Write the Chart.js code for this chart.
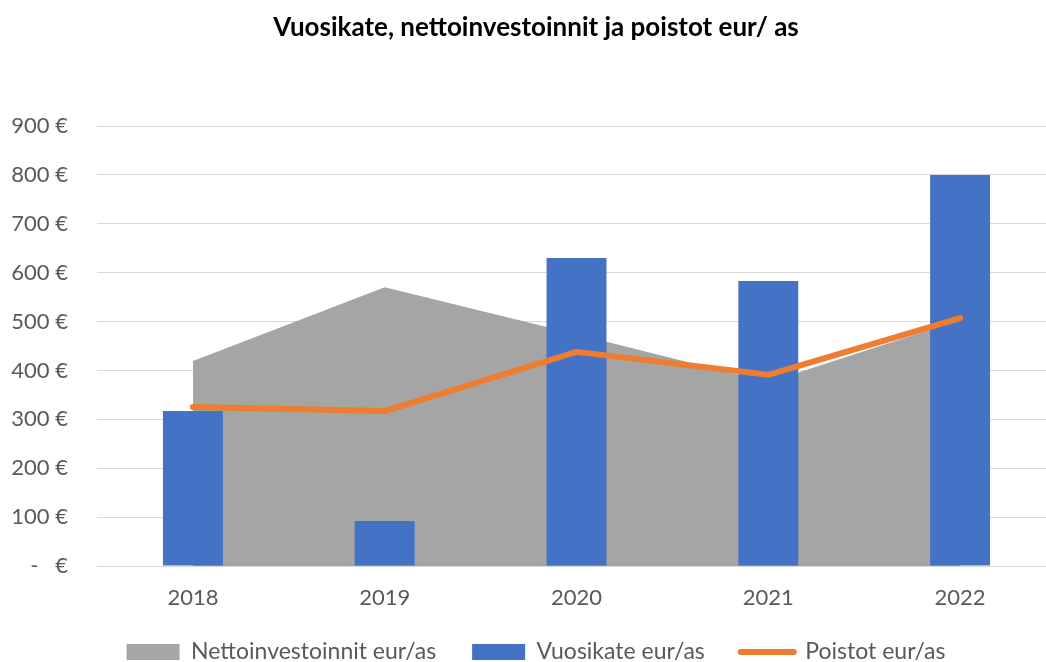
<!DOCTYPE html>
<html>
<head>
<meta charset="utf-8">
<script src="https://cdn.jsdelivr.net/npm/chart.js@4.4.1/dist/chart.umd.min.js"></script>
<style>
  html, body { margin: 0; padding: 0; background: #fff; overflow: hidden; }
  #wrap { width: 1072px; height: 662px; }
</style>
</head>
<body>
<div id="wrap"><canvas id="c" width="1072" height="662"></canvas></div>
<script>
const categories = ['2018', '2019', '2020', '2021', '2022'];
const nettoinvestoinnit = [419, 570, 474, 376, 503];
const vuosikate = [317, 92, 630, 583, 800];
const poistot = [325, 317, 438, 391, 507];
const yTicks = [0, 100, 200, 300, 400, 500, 600, 700, 800, 900];
const seriesNames = ['Nettoinvestoinnit eur/as', 'Vuosikate eur/as', 'Poistot eur/as'];
const titleText = 'Vuosikate, nettoinvestoinnit ja poistot eur/ as';

const FONT = 'Lato, "Open Sans", sans-serif';
const TXT = '#595959';

new Chart(document.getElementById('c'), {
  type: 'bar',
  data: {
    labels: categories,
    datasets: [
      {
        type: 'line',
        label: seriesNames[0],
        data: nettoinvestoinnit,
        backgroundColor: '#A5A5A5',
        borderColor: '#A5A5A5',
        borderWidth: 0,
        fill: 'origin',
        pointRadius: 0,
        tension: 0,
        order: 3
      },
      {
        type: 'bar',
        label: seriesNames[1],
        data: vuosikate,
        backgroundColor: '#4472C4',
        borderWidth: 0,
        categoryPercentage: 1,
        barPercentage: 0.3125,
        order: 2
      },
      {
        type: 'line',
        label: seriesNames[2],
        data: poistot,
        borderColor: '#ED7D31',
        backgroundColor: '#ED7D31',
        borderWidth: 6,
        borderCapStyle: 'round',
        borderJoinStyle: 'round',
        fill: false,
        pointRadius: 0,
        tension: 0,
        order: 1
      }
    ]
  },
  options: {
    responsive: false,
    devicePixelRatio: 1,
    animation: false,
    layout: { padding: { left: 16, right: 16, top: 0, bottom: -11.5 } },
    plugins: {
      tooltip: { enabled: false },
      title: {
        display: true,
        text: titleText,
        color: '#000000',
        font: { family: FONT, size: 26, weight: 'bold', lineHeight: 1.2 },
        padding: { top: 12, bottom: 82.8 }
      },
      legend: {
        position: 'bottom',
        labels: {
          color: TXT,
          font: { family: FONT, size: 23 },
          usePointStyle: true,
          pointStyleWidth: 53,
          boxHeight: 16,
          padding: 36,
          sort: (a, b) => a.datasetIndex - b.datasetIndex,
          generateLabels: (chart) => {
            const items = Chart.defaults.plugins.legend.labels.generateLabels(chart);
            items.forEach(it => {
              const ds = chart.data.datasets[it.datasetIndex];
              if (it.datasetIndex === 2) {
                it.pointStyle = 'line';
                it.strokeStyle = '#ED7D31';
                it.fillStyle = '#ED7D31';
                it.lineWidth = 6;
                it.lineCap = 'round';
              } else {
                it.pointStyle = 'rect';
                it.fillStyle = ds.backgroundColor;
                it.strokeStyle = ds.backgroundColor;
                it.lineWidth = 0;
              }
            });
            return items;
          }
        }
      }
    },
    scales: {
      x: {
        offset: true,
        grid: { display: false, drawTicks: false },
        border: { display: true, color: '#D9D9D9', width: 1 },
        ticks: { color: TXT, font: { family: FONT, size: 22 }, padding: 19 },
        afterFit: (s) => { s.height = 38.5; s._computeLabelArea = () => undefined; }
      },
      y: {
        min: 0,
        max: 900,
        afterBuildTicks: (s) => { s.ticks = yTicks.map(v => ({ value: v })); },
        grid: { color: '#D9D9D9', lineWidth: 1, drawTicks: false },
        border: { display: false },
        ticks: {
          color: TXT,
          font: { family: FONT, size: 22 },
          padding: 29,
          callback: (v) => v === 0 ? '-   €' : v + ' €'
        },
        afterFit: (s) => { s.width = 81; s._computeLabelArea = () => undefined; }
      }
    }
  }
});
</script>
</body>
</html>
